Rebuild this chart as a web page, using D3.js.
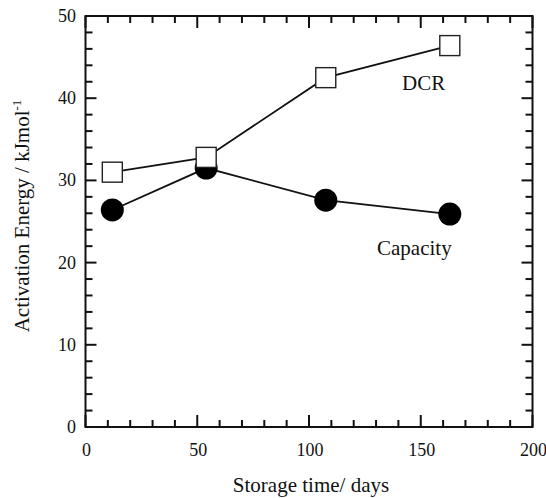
<!DOCTYPE html>
<html><head><meta charset="utf-8">
<script src="https://cdn.jsdelivr.net/npm/d3@7"></script>
<style>body{margin:0;background:#fff}svg{display:block}svg text{font-family:'Liberation Serif','Times New Roman','DejaVu Serif',Times,serif;fill:#111}</style>
</head><body>
<svg id="c" width="546" height="498" font-family="Liberation Serif, DejaVu Serif, serif"></svg>
<script>
const storageDays = [12, 54, 107.5, 163];
const capacityEa = [26.4, 31.5, 27.6, 25.9];
const dcrEa = [31.0, 32.8, 42.5, 46.4];
const xTicks = [0, 50, 100, 150, 200];
const yTicks = [0, 10, 20, 30, 40, 50];

const svg = d3.select("#c");
const L = 85.5, R = 532.5, T = 16, B = 427;
const x = d3.scaleLinear().domain([0, 200]).range([L, R]);
const y = d3.scaleLinear().domain([0, 50]).range([B, T]);

const g = svg.append("g");
g.append("rect").attr("x", L).attr("y", T).attr("width", R - L).attr("height", B - T)
  .attr("fill", "none").attr("stroke", "#111").attr("stroke-width", 2);

const xMinor = d3.range(0, 201, 10).filter(v => v % 50 !== 0);
const yMinor = d3.range(0, 51, 2).filter(v => v % 10 !== 0);
const tk = g.append("g").attr("stroke", "#111").attr("stroke-width", 2);
function xt(vals, len) {
  vals.forEach(v => {
    tk.append("line").attr("x1", x(v)).attr("x2", x(v)).attr("y1", B).attr("y2", B - len);
    tk.append("line").attr("x1", x(v)).attr("x2", x(v)).attr("y1", T).attr("y2", T + len);
  });
}
function yt(vals, len) {
  vals.forEach(v => {
    tk.append("line").attr("y1", y(v)).attr("y2", y(v)).attr("x1", L).attr("x2", L + len);
    tk.append("line").attr("y1", y(v)).attr("y2", y(v)).attr("x1", R).attr("x2", R - len);
  });
}
xt(xTicks, 12); xt(xMinor, 7);
yt(yTicks, 11); yt(yMinor, 7);

g.selectAll(".xl").data(xTicks).enter().append("text")
  .attr("x", d => x(d) + 1).attr("y", 456).attr("text-anchor", "middle")
  .attr("font-size", 18).text(d => d);
g.selectAll(".yl").data(yTicks).enter().append("text")
  .attr("x", 76).attr("y", d => y(d) + 6).attr("text-anchor", "end")
  .attr("font-size", 18).text(d => d);

g.append("text").attr("x", 311).attr("y", 492).attr("text-anchor", "middle")
  .attr("font-size", 21).text("Storage time/ days");
const yt2 = g.append("text").attr("transform", "translate(29,216) rotate(-90)")
  .attr("text-anchor", "middle").attr("font-size", 21);
yt2.append("tspan").text("Activation Energy / kJmol");
yt2.append("tspan").attr("font-size", 13).attr("dy", -8).text("-1");

const line = d3.line().x(d => x(d[0])).y(d => y(d[1]));
const cap = storageDays.map((d, i) => [d, capacityEa[i]]);
const dcr = storageDays.map((d, i) => [d, dcrEa[i]]);

g.append("path").attr("d", line(cap)).attr("fill", "none").attr("stroke", "#111").attr("stroke-width", 1.8);
g.append("path").attr("d", line(dcr)).attr("fill", "none").attr("stroke", "#111").attr("stroke-width", 1.8);

g.selectAll(".cc").data(cap).enter().append("circle")
  .attr("cx", d => x(d[0])).attr("cy", d => y(d[1])).attr("r", 11.5).attr("fill", "#000");
g.selectAll(".sq").data(dcr).enter().append("rect")
  .attr("x", d => x(d[0]) - 10).attr("y", d => y(d[1]) - 10)
  .attr("width", 20).attr("height", 20)
  .attr("fill", "#fff").attr("stroke", "#222").attr("stroke-width", 1.4);

g.append("text").attr("x", 402).attr("y", 89.5).attr("font-size", 21).text("DCR");
g.append("text").attr("x", 377).attr("y", 255).attr("font-size", 21).text("Capacity");
</script>
</body></html>
